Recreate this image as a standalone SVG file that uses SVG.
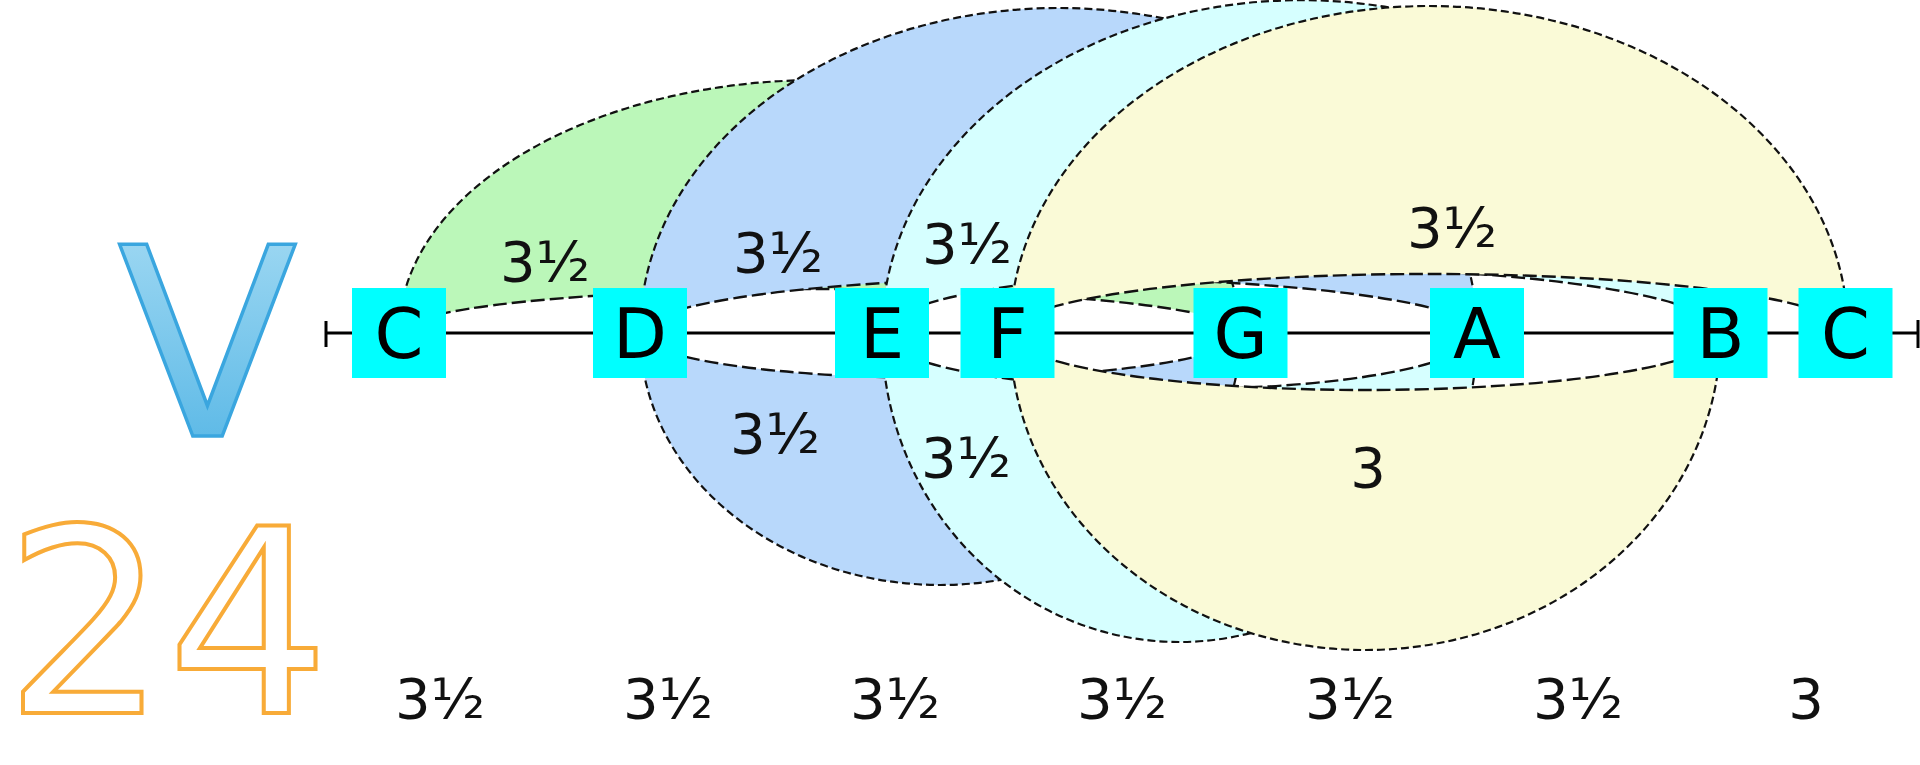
<svg xmlns="http://www.w3.org/2000/svg" width="1920" height="765" viewBox="0 0 1920 765">
<style>
.big{fill:none;stroke:#111;stroke-width:2.2;stroke-dasharray:8 4}
.flat{fill:none;stroke:#111;stroke-width:2.4;stroke-dasharray:14 5}
.lbl{font-family:"DejaVu Sans",sans-serif;font-size:56px;fill:#111;text-anchor:middle}
.note rect{fill:#00ffff}
.note text{font-family:"DejaVu Sans",sans-serif;font-size:70px;fill:#000;text-anchor:middle}
</style>
<defs>
<linearGradient id="vg" x1="0" y1="0" x2="0" y2="1">
<stop offset="0" stop-color="#a9ddf4"/>
<stop offset="1" stop-color="#4db2e4"/>
</linearGradient>
</defs>
<rect width="1920" height="765" fill="#fff"/>
<g id="title">
<text x="207.5" y="436" font-family="DejaVu Sans, sans-serif" font-size="263" text-anchor="middle" fill="url(#vg)" stroke="#3aa6df" stroke-width="3.5">V</text>
<text x="167" y="713" font-family="DejaVu Sans, sans-serif" font-size="256" text-anchor="middle" fill="#fff" stroke="#f8ab38" stroke-width="4">24</text>
</g>
<g id="green">
<path fill="#bbf7b9" d="M399,333 A420.75,253 0 0 1 1240.5,333 A420.75,44 0 0 0 399,333 Z"/>
<path class="big" d="M399,333 A420.75,253 0 0 1 1240.5,333"/>
<path class="flat" d="M1240.5,333 A420.75,44 0 0 0 399,333"/>
</g>
<g id="blue">
<path fill="#b8d8fb" d="M640,333 A418.5,325 0 0 1 1477,333 A418.5,55 0 0 0 640,333 Z"/>
<path fill="#b8d8fb" d="M640,333 A300.25,252 0 0 0 1240.5,333 A300.25,45 0 0 1 640,333 Z"/>
<path class="big" d="M640,333 A418.5,325 0 0 1 1477,333"/>
<path class="flat" d="M1477,333 A418.5,55 0 0 0 640,333"/>
<path class="big" d="M640,333 A300.25,252 0 0 0 1240.5,333"/>
<path class="flat" d="M1240.5,333 A300.25,45 0 0 1 640,333"/>
</g>
<g id="cyan">
<path fill="#d6ffff" d="M882,333 A419.25,333 0 0 1 1720.5,333 A419.25,65 0 0 0 882,333 Z"/>
<path fill="#d6ffff" d="M882,333 A297.5,309 0 0 0 1477,333 A297.5,56 0 0 1 882,333 Z"/>
<path class="big" d="M882,333 A419.25,333 0 0 1 1720.5,333"/>
<path class="flat" d="M1720.5,333 A419.25,65 0 0 0 882,333"/>
<path class="big" d="M882,333 A297.5,309 0 0 0 1477,333"/>
<path class="flat" d="M1477,333 A297.5,56 0 0 1 882,333"/>
</g>
<g id="yellow">
<path fill="#fafad7" d="M1010,333 A419,327 0 0 1 1848,333 A419,59 0 0 0 1010,333 Z"/>
<path fill="#fafad7" d="M1010,333 A355.25,317 0 0 0 1720.5,333 A355.25,57 0 0 1 1010,333 Z"/>
<path class="big" d="M1010,333 A419,327 0 0 1 1848,333"/>
<path class="flat" d="M1848,333 A419,59 0 0 0 1010,333"/>
<path class="big" d="M1010,333 A355.25,317 0 0 0 1720.5,333"/>
<path class="flat" d="M1720.5,333 A355.25,57 0 0 1 1010,333"/>
</g>
<g id="connectors">
<line x1="326" y1="333" x2="1918" y2="333" stroke="#000" stroke-width="3"/>
<line x1="326" y1="321" x2="326" y2="347" stroke="#000" stroke-width="3"/>
<line x1="1918" y1="320" x2="1918" y2="348" stroke="#000" stroke-width="3"/>
</g>
<g id="labels">
<text class="lbl" x="545" y="281">3½</text>
<text class="lbl" x="778" y="272">3½</text>
<text class="lbl" x="967" y="263">3½</text>
<text class="lbl" x="1452" y="247">3½</text>
<text class="lbl" x="775" y="453">3½</text>
<text class="lbl" x="966" y="477">3½</text>
<text class="lbl" x="1368" y="487">3</text>
<text class="lbl" x="440" y="718">3½</text>
<text class="lbl" x="668" y="718">3½</text>
<text class="lbl" x="895" y="718">3½</text>
<text class="lbl" x="1122" y="718">3½</text>
<text class="lbl" x="1350" y="718">3½</text>
<text class="lbl" x="1578" y="718">3½</text>
<text class="lbl" x="1806" y="718">3</text>
</g>
<g id="note-C1" class="note"><rect x="352" y="288" width="94" height="90"/><text x="399" y="358">C</text></g>
<g id="note-D" class="note"><rect x="593" y="288" width="94" height="90"/><text x="640" y="358">D</text></g>
<g id="note-E" class="note"><rect x="835" y="288" width="94" height="90"/><text x="882" y="358">E</text></g>
<g id="note-F" class="note"><rect x="960.5" y="288" width="94" height="90"/><text x="1007.5" y="358">F</text></g>
<g id="note-G" class="note"><rect x="1193.5" y="288" width="94" height="90"/><text x="1240.5" y="358">G</text></g>
<g id="note-A" class="note"><rect x="1430" y="288" width="94" height="90"/><text x="1477" y="358">A</text></g>
<g id="note-B" class="note"><rect x="1673.5" y="288" width="94" height="90"/><text x="1720.5" y="358">B</text></g>
<g id="note-C2" class="note"><rect x="1798.5" y="288" width="94" height="90"/><text x="1845.5" y="358">C</text></g>
</svg>
